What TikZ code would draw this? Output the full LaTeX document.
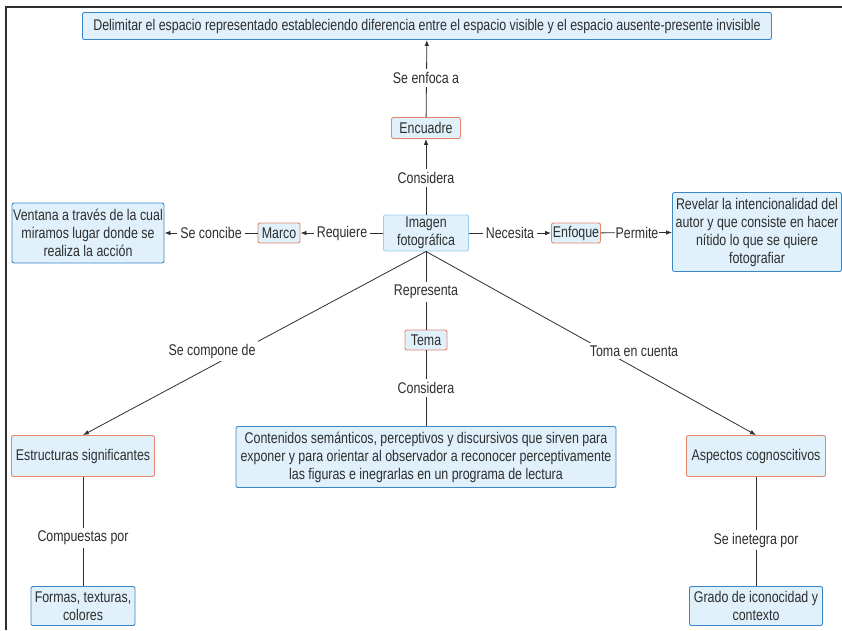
\documentclass[tikz,border=0pt]{standalone}
\usepackage{fontspec}
\setmainfont{Liberation Sans}[FakeStretch=0.80]
\usetikzlibrary{arrows.meta}

\definecolor{boxfill}{HTML}{E0F1FC}
\definecolor{boxblue}{HTML}{3A86C8}
\definecolor{boxsalmon}{HTML}{E8846C}
\definecolor{boxpale}{HTML}{9CCFEE}
\definecolor{ink}{HTML}{2E2E2E}

\tikzset{
  concept/.style={draw=boxblue, fill=boxfill, rounded corners=2pt, align=center,
    inner sep=1pt, text=ink, line width=0.9pt, font=\fontsize{15.5}{18}\selectfont},
  keyword/.style={concept, draw=boxsalmon},
  rootbox/.style={concept, draw=boxpale},
  linkword/.style={fill=white, text=ink, inner sep=3pt, font=\fontsize{15.5}{18}\selectfont},
  link/.style={draw=ink, line width=0.8pt},
  arrowlink/.style={link, -{Latex[length=6pt,width=4.5pt]}},
  frameline/.style={draw=ink, line width=1.5pt}
}

\begin{document}
\begin{tikzpicture}[x=1pt, y=-1pt]

    \useasboundingbox (0,0) rectangle (842,630);

    % Frame
    % -----
    \draw[frameline] (6,630) -- (6,7) -- (842,7);

    % Concepts
    % --------
    \node[concept, minimum width=689, minimum height=27] (goal) at (427,26)
        {Delimitar el espacio representado estableciendo diferencia entre el espacio visible y el espacio ausente-presente invisible};
    \node[keyword, minimum width=69, minimum height=21] (encuadre) at (426,128) {Encuadre};
    \node[rootbox, minimum width=85, minimum height=36] (imagen) at (426,233) {Imagen\\fotográfica};
    \node[keyword, minimum width=42, minimum height=20] (marco) at (279,233) {Marco};
    \node[concept, minimum width=152, minimum height=60] (ventana) at (88,233)
        {Ventana a través de la cual\\miramos lugar donde se\\realiza la acción};
    \node[keyword, minimum width=49, minimum height=20] (enfoque) at (576,233) {Enfoque};
    \node[concept, minimum width=169, minimum height=79] (revelar) at (757,232)
        {Revelar la intencionalidad del\\autor y que consiste en hacer\\nítido lo que se quiere\\fotografiar};
    \node[keyword, minimum width=42, minimum height=20] (tema) at (426,340) {Tema};
    \node[concept, minimum width=380, minimum height=61] (contenidos) at (426,457)
        {Contenidos semánticos, perceptivos y discursivos que sirven para\\exponer y para orientar al observador a reconocer perceptivamente\\las figuras e inegrarlas en un programa de lectura};
    \node[keyword, minimum width=143, minimum height=41] (estructuras) at (83,456) {Estructuras significantes};
    \node[keyword, minimum width=139, minimum height=41] (aspectos) at (756,456) {Aspectos cognoscitivos};
    \node[concept, minimum width=104, minimum height=39] (formas) at (83,606) {Formas, texturas,\\colores};
    \node[concept, minimum width=133, minimum height=39] (grado) at (756,606) {Grado de iconocidad y\\contexto};

    % Connectors
    % ----------
    \draw[arrowlink] (encuadre) -- (goal);
    \draw[arrowlink] (imagen) -- (encuadre);
    \draw[arrowlink] (imagen) -- (marco);
    \draw[arrowlink] (marco) -- (ventana);
    \draw[arrowlink] (imagen) -- (enfoque);
    \draw[arrowlink] (enfoque) -- (revelar);
    \draw[link] (imagen) -- (tema);
    \draw[link] (tema) -- (contenidos);
    \draw[arrowlink] (imagen.south) -- (estructuras.north);
    \draw[arrowlink] (imagen.south) -- (aspectos.north);
    \draw[link] (estructuras) -- (formas);
    \draw[link] (aspectos) -- (grado);

    % Linking words
    % -------------
    \node[linkword] (enfoca)    at (426, 78) {Se enfoca a};
    \node[linkword] (considA)   at (426,178) {Considera};
    \node[linkword] (concibe)   at (211,233) {Se concibe};
    \node[linkword] (requiere)  at (342,233) {Requiere};
    \node[linkword] (necesita)  at (510,233) {Necesita};
    \node[linkword, inner xsep=1pt] (permite) at (637,233) {Permite};
    \node[linkword] (representa) at (426,292) {Representa};
    \node[linkword] (considB)   at (426,388) {Considera};
    \node[linkword] (compone)   at (212,351) {Se compone de};
    \node[linkword] (toma)      at (634,351) {Toma en cuenta};
    \node[linkword] (compuestas) at (83,538) {Compuestas por};
    \node[linkword] (integra)   at (756,540) {Se inetegra por};

\end{tikzpicture}
\end{document}
